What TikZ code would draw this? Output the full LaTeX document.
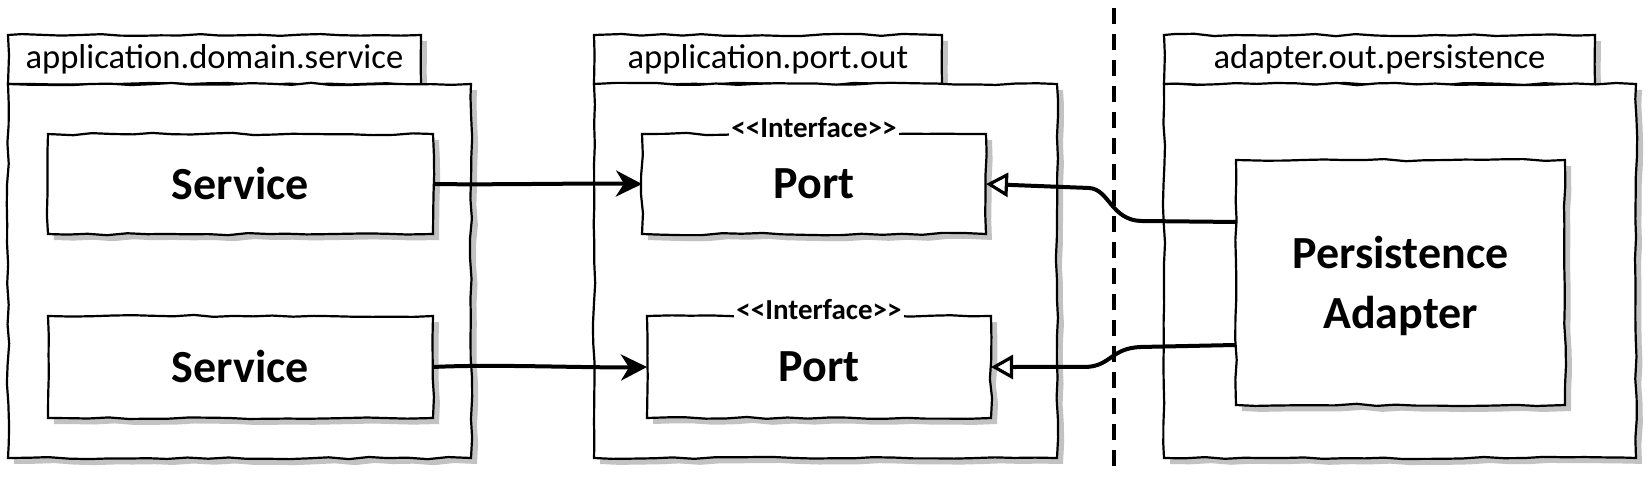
\documentclass[tikz,border=0pt]{standalone}
\usepackage{fontspec}
\setmainfont{Carlito}
\usetikzlibrary{decorations.pathmorphing, arrows.meta, calc}
\begin{document}
\pgfmathsetseed{11}
\begin{tikzpicture}[x=0.5pt, y=-0.5pt,
  sketch/.style={decorate, decoration={random steps, segment length=10pt, amplitude=0.6pt}},
  shade/.style={preaction={fill=black!24, draw=none, transform canvas={shift={(3pt,-3pt)}}}},
  box/.style={rectangle, draw=black, line width=1.1pt, fill=white, sketch, shade, inner sep=0pt, outer sep=0pt},
  tabbox/.style={box, font=\fontsize{17.3}{20}\selectfont},
  classbox/.style={box, font=\bfseries\fontsize{23}{30}\selectfont, align=center},
  stereo/.style={fill=white, inner sep=1pt, anchor=base, font=\bfseries\fontsize{14.5}{16}\selectfont},
  uses/.style={line width=2pt, -{Stealth[length=13pt, width=13pt, inset=4pt]}},
  impl/.style={line width=2pt, -{Triangle[open, length=11pt, width=12pt, line width=1.6pt, fill=white]}},
  boundary/.style={line width=1.8pt, dash pattern=on 8pt off 5pt}
]
\useasboundingbox (0,0) rectangle (1650,493);

% package 1
\node[tabbox, minimum width=206.5pt, minimum height=24.5pt] (tab1) at (214.5,59.5) {application.domain.service};
\node[box, minimum width=231.5pt, minimum height=187pt] (pkg1) at (239.5,271) {};
% package 2
\node[tabbox, minimum width=174pt, minimum height=24.5pt] (tab2) at (768,59.5) {application.port.out};
\node[box, minimum width=231.5pt, minimum height=187pt] (pkg2) at (825.5,271) {};
% package 3
\node[tabbox, minimum width=215.5pt, minimum height=24.5pt] (tab3) at (1379.5,59.5) {adapter.out.persistence};
\node[box, minimum width=236pt, minimum height=187pt] (pkg3) at (1400,271) {};

% classes
\node[classbox, minimum width=192.5pt, minimum height=50pt] (svc1) at (240.5,184) {Service};
\node[classbox, minimum width=192.5pt, minimum height=51pt] (svc2) at (240.5,367) {Service};
\node[classbox, minimum width=172pt, minimum height=50pt] (port1) at (814,184) {Port};
\node[classbox, minimum width=172pt, minimum height=51pt] (port2) at (819,367) {Port};
\node[classbox, minimum width=164.5pt, minimum height=122.5pt] (adapter) at (1400.5,282.5) {\rule{0pt}{19.5pt}Persistence\\Adapter};

\node[stereo] (st1) at ([yshift=-1.5pt]port1.north) {<\kern0pt<Interface>\kern0pt>};
\node[stereo] (st2) at ([yshift=-1.5pt]port2.north) {<\kern0pt<Interface>\kern0pt>};

% boundary
\coordinate (dtop) at (1114,8);
\coordinate (dbot) at (1114,470);
\draw[boundary] (dtop) -- (dbot);

% connectors
\draw[uses] (svc1.east) .. controls +(60,1) and +(-60,-1) .. (port1.west);
\draw[uses] (svc2.east) .. controls +(60,-3) and +(-60,1) .. (port2.west);

\coordinate (a1) at ($(adapter.north west)!0.253!(adapter.south west)$);
\coordinate (a2) at ($(adapter.north west)!0.755!(adapter.south west)$);
\draw[impl] (a1) -- ++(-95,-1) .. controls +(-30,-1) and +(20,1) .. ++(-52,-33) -- (port1.east);
\draw[impl] (a2) -- ++(-95,2) .. controls +(-30,1) and +(25,-1) .. ++(-55,20) -- (port2.east);
\end{tikzpicture}
\end{document}
